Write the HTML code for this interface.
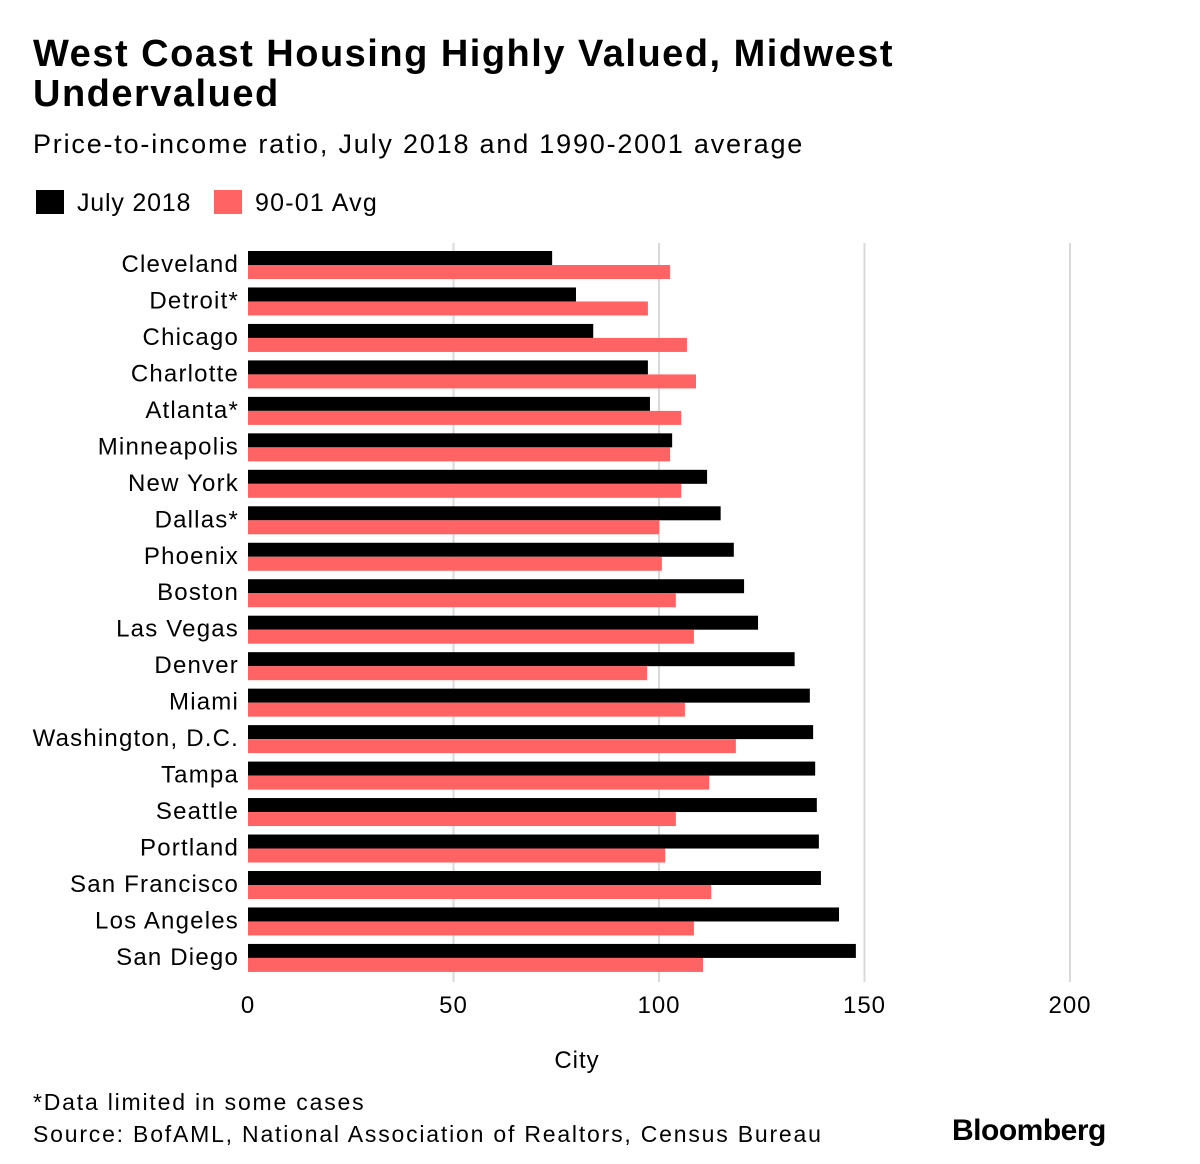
<!DOCTYPE html>
<html><head><meta charset="utf-8"><style>
body{margin:0;background:#fff;width:1200px;height:1164px;overflow:hidden;font-family:"Liberation Sans",sans-serif;color:#000}
.t{position:absolute;left:33px;top:34px;font-size:38px;font-weight:bold;line-height:40px;letter-spacing:1.5px}
.s{position:absolute;left:33px;top:129px;font-size:27px;letter-spacing:1.8px}
.f{position:absolute;left:33px;font-size:23px;letter-spacing:1.8px}
</style></head><body>
<div class="t">West Coast Housing Highly Valued, Midwest<br>Undervalued</div>
<div class="s">Price-to-income ratio, July 2018 and 1990-2001 average</div>
<svg width="1200" height="1164" style="position:absolute;left:0;top:0" id="chart">
<g>
<rect x="36" y="190" width="28" height="24" fill="#000"/>
<text x="77" y="211" font-size="25" letter-spacing="0.8">July 2018</text>
<rect x="214" y="190" width="28" height="24" fill="#ff6363"/>
<text x="255" y="211" font-size="25" letter-spacing="1.2">90-01 Avg</text>
</g>
</svg>
<div class="f" style="top:1089px">*Data limited in some cases</div>
<div class="f" style="top:1121px">Source: BofAML, National Association of Realtors, Census Bureau</div>
<div style="position:absolute;left:952px;top:1114px;font-size:30px;font-weight:bold;letter-spacing:-0.5px">Bloomberg</div>
<script>
const cities=["Cleveland","Detroit*","Chicago","Charlotte","Atlanta*","Minneapolis","New York","Dallas*","Phoenix","Boston","Las Vegas","Denver","Miami","Washington, D.C.","Tampa","Seattle","Portland","San Francisco","Los Angeles","San Diego"];
const july2018=[74,79.8,84,97.3,97.8,103.2,111.7,115,118.2,120.7,124.1,133,136.7,137.5,138,138.4,138.9,139.4,143.8,147.9];
const avg9001=[102.7,97.3,106.8,109,105.4,102.7,105.4,100,100.7,104.1,108.5,97.1,106.3,118.7,112.2,104.1,101.5,112.7,108.5,110.7];
const ticks=[0,50,100,150,200];
const NS="http://www.w3.org/2000/svg";
const svg=document.getElementById("chart");
const x=v=>248+v*4.11;
const rowY=i=>251+i*36.47;
function mk(tag,a){const e=document.createElementNS(NS,tag);for(const k in a)e.setAttribute(k,a[k]);svg.appendChild(e);return e;}
ticks.forEach(t=>{
 if(t>0){const l=mk("line",{x1:x(t),x2:x(t),y1:243,y2:982,stroke:"#d9d9d9","stroke-width":2});
 
 }
 const tx=mk("text",{x:x(t),y:1013,"font-size":24,"text-anchor":"middle","letter-spacing":1});tx.textContent=t;
 
 
});
cities.forEach((c,i)=>{
 const y=rowY(i);
 const lb=mk("text",{x:239,y:y+21,"font-size":24,"text-anchor":"end","letter-spacing":1.2});lb.textContent=c;
 
 
 const b1=mk("rect",{x:x(0),y:y,width:x(july2018[i])-x(0),height:14,fill:"#000"});
 
 
 const b2=mk("rect",{x:x(0),y:y+14,width:x(avg9001[i])-x(0),height:14,fill:"#ff6363"});
 
 
});
const at=mk("text",{x:577,y:1068,"font-size":24,"text-anchor":"middle","letter-spacing":1});at.textContent="City";


</script>
</body></html>
